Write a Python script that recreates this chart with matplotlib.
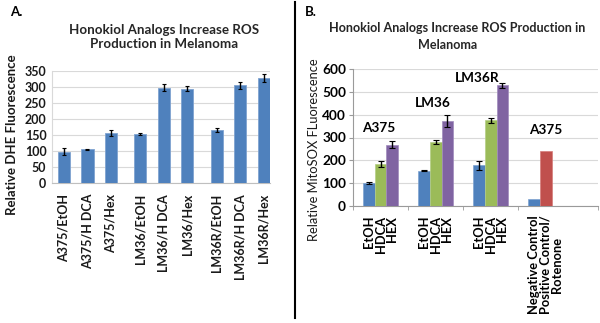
import numpy as np
import matplotlib
matplotlib.use("Agg")
import matplotlib.pyplot as plt
from matplotlib.lines import Line2D

plt.rcParams['font.family'] = ['Lato', 'DejaVu Sans']

# Panel A: DHE fluorescence
a_labels = ["A375/EtOH", "A375/H DCA", "A375/Hex",
            "LM36/EtOH", "LM36/H DCA", "LM36/Hex",
            "LM36R/EtOH", "LM36R/H DCA", "LM36R/Hex"]
a_values = [98, 105, 157, 152, 297, 295, 166, 305, 328]
a_errors = [10, 2, 9, 3, 11, 8, 6, 10, 12]

# Panel B: MitoSOX fluorescence
b_labels = ["EtOH\nHDCA\nHEX", "EtOH\nHDCA\nHEX", "EtOH\nHDCA\nHEX",
            "Negative Control\nPositive Control/\nRotenone"]
b_etoh = [100, 155, 178, 30]
b_hdca = [183, 280, 375, 240]
b_hex = [268, 373, 528, 0]
b_etoh_err = [4, 3, 20, 0]
b_hdca_err = [12, 8, 10, 0]
b_hex_err = [16, 25, 12, 0]
b_notes = ["A375", "LM36", "LM36R", "A375"]

BLUE = "#4F81BD"
GREEN = "#9BBB59"
PURPLE = "#8064A2"
RED = "#C0504D"
GRID = "#d9d9d9"

W, H = 600, 323
fig = plt.figure(figsize=(6, 3.23), dpi=100)


def box(x0, y0, x1, y1):
    # pixel box (top-left origin) -> figure fraction rect
    return [x0 / W, 1 - y1 / H, (x1 - x0) / W, (y1 - y0) / H]


# ---------------- Panel A ----------------
axA = fig.add_axes(box(52, 71, 270, 183))
posA = np.array([0, 1, 2, 3.25, 4.25, 5.25, 6.5, 7.5, 8.5])
axA.bar(posA, a_values, width=0.52, color=BLUE, edgecolor="#7fa3d1",
        linewidth=0.6, zorder=3)
axA.errorbar(posA, a_values, yerr=a_errors, fmt="none", ecolor="black",
             elinewidth=1.0, capsize=1.5, capthick=0.8, zorder=4)
axA.set_xlim(-0.51, 8.77)
axA.set_ylim(0, 350)
axA.set_yticks(np.arange(0, 351, 50))
axA.yaxis.grid(True, color=GRID, linewidth=0.8, zorder=0)
axA.set_axisbelow(True)
for s in ["top", "right"]:
    axA.spines[s].set_visible(False)
axA.spines["left"].set_color(GRID)
axA.spines["bottom"].set_color("#bfbfbf")
axA.set_xticks(posA)
axA.set_xticklabels(a_labels, rotation=90, fontsize=9, fontweight="bold",
                    color="#1a1a1a")
axA.tick_params(axis="x", length=0, pad=8)
axA.tick_params(axis="y", length=0, pad=4, labelsize=9)
for t in axA.get_yticklabels():
    t.set_fontweight("bold")
    t.set_color("#1a1a1a")

fig.text(164 / W, 1 - 37 / H,
         "Honokiol Analogs Increase ROS\nProduction in Melanoma",
         ha="center", va="center", fontsize=9.6, fontweight="bold",
         color="#262626", linespacing=1.3)
fig.text(12 / W, 1 - 135 / H, "Relative DHE Fluorescence", rotation=90,
         ha="center", va="center", fontsize=9.5, fontweight="bold",
         color="#1a1a1a")
fig.text(10 / W, 1 - 12 / H, "A.", ha="left", va="center", fontsize=9.5,
         fontweight="bold")

# ---------------- Panel B ----------------
axB = fig.add_axes(box(353, 69, 598, 206))
xb = np.arange(len(b_labels))
bw = 0.215
axB.bar(xb - bw, b_etoh, width=bw, color=BLUE, edgecolor="#7fa3d1",
        linewidth=0.5, zorder=3)
axB.bar(xb, b_hdca, width=bw, color=[GREEN, GREEN, GREEN, RED],
        edgecolor=["#b5cf85", "#b5cf85", "#b5cf85", "#d67d7b"],
        linewidth=0.5, zorder=3)
axB.bar(xb + bw, b_hex, width=bw, color=PURPLE, edgecolor="#a08bbd",
        linewidth=0.5, zorder=3)
axB.errorbar(xb[:3] - bw, b_etoh[:3], yerr=b_etoh_err[:3], fmt="none",
             ecolor="black", elinewidth=1.0, capsize=2, capthick=0.8, zorder=4)
axB.errorbar(xb[:3], b_hdca[:3], yerr=b_hdca_err[:3], fmt="none",
             ecolor="black", elinewidth=1.0, capsize=2, capthick=0.8, zorder=4)
axB.errorbar(xb[:3] + bw, b_hex[:3], yerr=b_hex_err[:3], fmt="none",
             ecolor="black", elinewidth=1.0, capsize=2, capthick=0.8, zorder=4)

axB.set_xlim(-0.5, 3.95)
axB.set_ylim(0, 600)
axB.set_yticks(np.arange(0, 601, 100))
axB.yaxis.grid(True, color=GRID, linewidth=0.8, zorder=0)
axB.set_axisbelow(True)
for s in ["top", "right"]:
    axB.spines[s].set_visible(False)
axB.spines["left"].set_color("#9a9a9a")
axB.spines["bottom"].set_color("#9a9a9a")
axB.set_xticks(xb)
axB.set_xticks([-0.5, 0.5, 1.5, 2.5, 3.95], minor=True)
axB.set_xticklabels(b_labels, rotation=90, fontsize=9.3, fontweight="bold",
                    va="top", linespacing=0.95)
for t in axB.get_xticklabels()[:3]:
    t.set_multialignment("right")
axB.get_xticklabels()[3].set_multialignment("center")
axB.tick_params(axis="x", which="major", length=0, pad=7)
axB.tick_params(axis="x", which="minor", length=3, color="#9a9a9a")
axB.tick_params(axis="y", length=3, color="#9a9a9a", pad=2, labelsize=9.8)
for t in axB.get_yticklabels():
    t.set_fontweight("bold")

note_pos = [(-0.03, 342), (0.95, 451), (1.75, 560), (3.0, 333)]
for (nx, ny), txt in zip(note_pos, b_notes):
    axB.text(nx, ny, txt, ha="center", va="center", fontsize=9.8,
             fontweight="bold")

fig.text(329 / W, 1 - 28 / H, "Honokiol Analogs Increase ROS Production in",
         ha="left", va="center", fontsize=9.1, fontweight="bold",
         color="#262626")
fig.text(448 / W, 1 - 45 / H, "Melanoma",
         ha="center", va="center", fontsize=9.1, fontweight="bold",
         color="#262626")
fig.text(314 / W, 1 - 150 / H, "Relative MitoSOX FLuorescence", rotation=90,
         ha="center", va="center", fontsize=9.3, color="#1a1a1a")
fig.text(305 / W, 1 - 12 / H, "B.", ha="left", va="center", fontsize=9.5,
         fontweight="bold")

# separator between the panels
fig.add_artist(Line2D([295 / W, 295 / W], [1 - 2 / H, 1 - 318 / H],
                      color="black", linewidth=1.5))

fig.savefig("out.png", dpi=100)
